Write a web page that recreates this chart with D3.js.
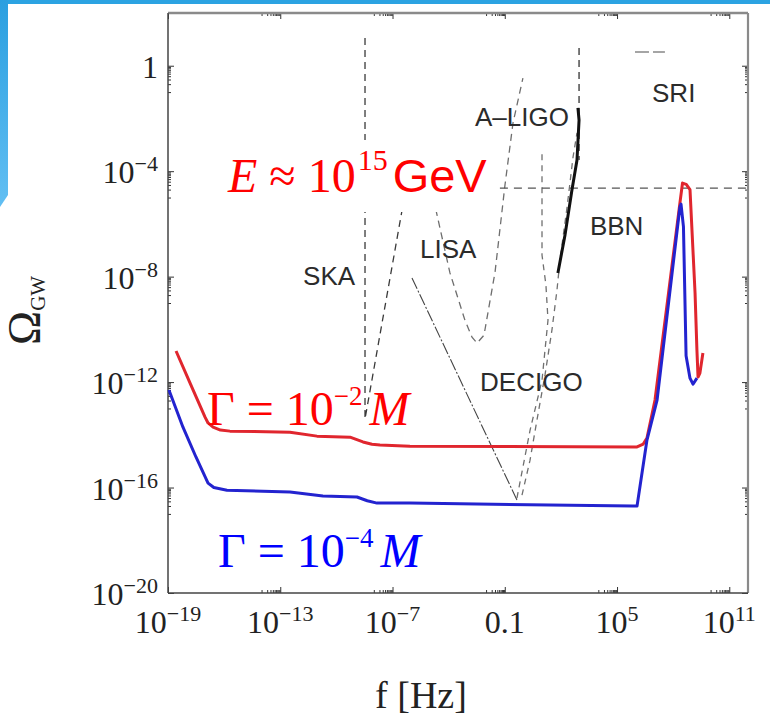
<!DOCTYPE html>
<html>
<head>
<meta charset="utf-8">
<script src="https://cdn.jsdelivr.net/npm/d3@7"></script>
<style>
  html, body { margin: 0; padding: 0; background: #fff; }
  svg { display: block; }
</style>
</head>
<body>
<div id="chart"></div>
<script>
// every point is [log10 f (Hz), log10 Omega_GW]
var xMajor = [-19, -13, -7, -1, 5, 11];
var xTickText = [["10", "−19"], ["10", "−13"], ["10", "−7"], ["0.1", ""], ["10", "5"], ["10", "11"]];
var yMajor = [0, -4, -8, -12, -16, -20];
var yTickText = [["1", ""], ["10", "−4"], ["10", "−8"], ["10", "−12"], ["10", "−16"], ["10", "−20"]];

var gamma2 = [[-18.57, -10.82], [-17.82, -12.04], [-17.02, -13.33], [-16.86, -13.55], [-16.59, -13.71],
        [-16.20, -13.82], [-15.69, -13.86], [-12.48, -13.90], [-11.04, -14.05], [-9.27, -14.09],
        [-8.58, -14.27], [-8.10, -14.36], [-7.67, -14.39], [-6.07, -14.43], [6.07, -14.46],
        [6.40, -14.35], [6.60, -14.12], [7.03, -12.68], [8.36, -5.21], [8.50, -4.45],
        [8.70, -4.50], [8.90, -4.70], [9.17, -8.62], [9.27, -10.78], [9.33, -11.81],
        [9.43, -11.66], [9.59, -10.90]];
var gamma4 = [[-18.95, -12.30], [-18.20, -13.71], [-17.50, -14.85], [-16.86, -15.83], [-16.55, -16.00],
        [-15.85, -16.10], [-12.48, -16.17], [-10.72, -16.32], [-8.90, -16.36], [-8.35, -16.50],
        [-7.83, -16.59], [-6.07, -16.59], [5.85, -16.70], [6.07, -16.70], [6.60, -14.20],
        [7.14, -12.68], [8.36, -5.36], [8.42, -5.25], [8.55, -6.10], [8.69, -11.00],
        [8.90, -11.85], [9.06, -12.08], [9.27, -11.85]];

var ska = [[-8.47, 1.05], [-8.47, -13.40], [-5.92, -3.20]];
var lisa = [[-5.30, -3.20], [-4.68, -5.47], [-3.93, -7.86], [-3.13, -9.65], [-2.75, -10.30],
        [-2.48, -10.52], [-2.11, -10.22], [-1.52, -7.83], [-0.99, -4.53], [-0.56, -2.17], [-0.03, -0.47]];
var decigo = [[-5.96, -8.05], [-0.35, -16.47]];
var decigoA = [[-0.35, -16.40], [0.35, -13.83], [0.99, -11.93], [1.31, -9.65], [1.20, -8.32],
        [0.99, -7.18], [0.99, -3.27]];
var decigoB = [[-0.08, -16.29], [0.35, -14.96], [0.72, -13.44], [1.15, -11.73], [1.52, -10.03],
        [1.79, -8.51], [1.95, -7.37], [2.33, -5.36], [2.65, -3.46], [2.86, -2.55]];
var aligo = [[1.84, -7.86], [2.22, -6.42], [2.59, -4.71], [2.86, -3.58], [2.97, -2.06], [2.91, -1.60]];
var aligoEdge = [[2.97, 0.67], [2.97, -3.58]];
var bbn = [[-1.26, -4.64], [12, -4.64]];
var sri = [[5.96, 0.52], [7.56, 0.52]];

var detectors = ["SKA", "LISA", "A–LIGO", "BBN", "DECIGO", "SRI"];

var W = 770, H = 715;
var M = { left: 168, right: 22, top: 13, bottom: 122 };
var SERIF = "'Liberation Serif', 'Times New Roman', serif";
var SANS = "'Liberation Sans', Arial, sans-serif";

function p10(e) { return Math.pow(10, e); }

var x = d3.scaleLog().domain([1e-19, 1e12]).range([M.left, W - M.right]);
var y = d3.scaleLog().domain([1e-20, 1e2]).range([H - M.bottom, M.top]);

var svg = d3.select("#chart").append("svg")
        .attr("width", W)
        .attr("height", H);

// slide decoration
svg.append("rect").attr("x", 0).attr("y", 0).attr("width", W).attr("height", 4).attr("fill", "#2ba3e2");
var grad = svg.append("defs").append("linearGradient")
        .attr("id", "side").attr("x1", 0).attr("y1", 0).attr("x2", 0).attr("y2", 1);
grad.append("stop").attr("offset", "0%").attr("stop-color", "#2a9fe0");
grad.append("stop").attr("offset", "100%").attr("stop-color", "#62bff3");
svg.append("polygon").attr("points", "0,0 8,0 8,195 0,207").attr("fill", "url(#side)");

svg.select("defs").append("clipPath").attr("id", "plot")
        .append("rect")
        .attr("x", M.left).attr("y", M.top)
        .attr("width", W - M.left - M.right).attr("height", H - M.top - M.bottom);

var line = d3.line()
        .x(function(d) { return x(p10(d[0])); })
        .y(function(d) { return y(p10(d[1])); });

// axes: inward major ticks plus log minor ticks under each labelled decade
function minors(major, scale) {
        var out = [];
        var lo = scale.domain()[0];
        major.forEach(function(m) {
                for (var k = 1; k <= 9; k++) {
                        var v = k * p10(m - 1);
                        if (v > lo * 1.0001) out.push(v);
                }
        });
        return out;
}

function drawAxis(axis, tx, ty, values, size) {
        svg.append("g")
                .attr("transform", "translate(" + tx + "," + ty + ")")
                .call(axis.tickValues(values).tickSizeInner(-size).tickSizeOuter(0).tickFormat(""))
                .call(function(g) { g.select(".domain").remove(); })
                .call(function(g) { g.selectAll("line").attr("stroke", "#333").attr("stroke-width", 1); });
}

var x0 = M.left, x1 = W - M.right, y0 = H - M.bottom, y1 = M.top;
var xMaj = xMajor.map(p10), yMaj = yMajor.map(p10);
var xMin = minors(xMajor, x), yMin = minors(yMajor, y);

drawAxis(d3.axisBottom(x), 0, y0, xMaj, 6);
drawAxis(d3.axisBottom(x), 0, y0, xMin, 3);
drawAxis(d3.axisTop(x), 0, y1, xMaj, 6);
drawAxis(d3.axisTop(x), 0, y1, xMin, 3);
drawAxis(d3.axisLeft(y), x0, 0, yMaj, 6);
drawAxis(d3.axisLeft(y), x0, 0, yMin, 3);
drawAxis(d3.axisRight(y), x1, 0, yMaj, 6);
drawAxis(d3.axisRight(y), x1, 0, yMin, 3);

// frame
svg.append("line").attr("x1", x0).attr("x2", x1).attr("y1", y1).attr("y2", y1)
        .attr("stroke", "#8a8a8a").attr("stroke-width", 2.5);
svg.append("line").attr("x1", x1).attr("x2", x1).attr("y1", y1).attr("y2", y0)
        .attr("stroke", "#8a8a8a").attr("stroke-width", 2.2);
svg.append("line").attr("x1", x0).attr("x2", x0).attr("y1", y1).attr("y2", y0)
        .attr("stroke", "#444").attr("stroke-width", 1.5);
svg.append("line").attr("x1", x0).attr("x2", x1).attr("y1", y0).attr("y2", y0)
        .attr("stroke", "#444").attr("stroke-width", 1.5);

// tick labels
function tickLabel(sel, d) {
        sel.append("tspan").text(d[0]);
        if (d[1]) {
                sel.append("tspan").attr("dy", -12).attr("font-size", 22).text(d[1]);
        }
}

svg.append("g").selectAll("text")
        .data(xMajor)
        .join("text")
        .attr("x", function(d) { return x(p10(d)); })
        .attr("y", y0 + 40)
        .attr("text-anchor", "middle")
        .attr("font-family", SERIF)
        .attr("font-size", 32)
        .attr("fill", "#222")
        .each(function(d, i) { tickLabel(d3.select(this), xTickText[i]); });

svg.append("g").selectAll("text")
        .data(yMajor)
        .join("text")
        .attr("x", x0 - 10)
        .attr("y", function(d) { return y(p10(d)) + 12; })
        .attr("text-anchor", "end")
        .attr("font-family", SERIF)
        .attr("font-size", 32)
        .attr("fill", "#222")
        .each(function(d, i) { tickLabel(d3.select(this), yTickText[i]); });

// axis titles
var yt = svg.append("text")
        .attr("transform", "translate(40,345) rotate(-90)")
        .attr("font-family", SERIF)
        .attr("fill", "#222");
yt.append("tspan").attr("font-size", 46).text("Ω");
yt.append("tspan").attr("font-size", 21).attr("dy", 5).text("GW");

svg.append("text")
        .attr("x", 421).attr("y", 708)
        .attr("text-anchor", "middle")
        .attr("font-family", SERIF)
        .attr("font-size", 38)
        .attr("fill", "#222")
        .text("f [Hz]");

// sensitivity curves
var sens = svg.append("g").attr("clip-path", "url(#plot)").attr("fill", "none");

function curve(data, color, width, dash) {
        sens.append("path")
                .datum(data)
                .attr("d", line)
                .attr("stroke", color)
                .attr("stroke-width", width)
                .attr("stroke-dasharray", dash);
}

curve(ska, "#3a3a3a", 1.3, "7,5");
curve(lisa, "#6e6e6e", 1.3, "7,5");
curve(decigo, "#444", 1.1, "12,2,2,2");
curve(decigoA, "#707070", 1.3, "6,5");
curve(decigoB, "#707070", 1.3, "6,5");
curve(aligoEdge, "#333", 1.3, "7,5");
curve(bbn, "#555", 1.3, "8,6");
curve(sri, "#888", 1.3, "14,4");
curve(aligo, "#111", 3, null);

// detector names, anchored in data units
var namePos = [[-11.78, -8.32], [-5.53, -7.29], [-2.59, -2.29], [3.55, -6.42], [-2.32, -12.34], [6.87, -1.38]];
svg.append("g").selectAll("text")
        .data(detectors)
        .join("text")
        .attr("x", function(d, i) { return x(p10(namePos[i][0])); })
        .attr("y", function(d, i) { return y(p10(namePos[i][1])); })
        .attr("font-family", SANS)
        .attr("font-size", 26)
        .attr("fill", "#2b2b2b")
        .text(function(d) { return d; });

// energy scale label on a white box
var eg = svg.append("g");
var et = eg.append("text")
        .attr("x", 228).attr("y", 192)
        .attr("font-family", SERIF)
        .attr("font-size", 48)
        .attr("fill", "#ff0000");
et.append("tspan").attr("font-style", "italic").text("E");
et.append("tspan").text(" ≈ 10");
et.append("tspan").attr("font-size", 30).attr("dy", -22).attr("dx", 2).text("15");
et.append("tspan").attr("font-family", SANS).attr("font-size", 47).attr("dy", 22).attr("dx", 5).text("GeV");
var bb = et.node().getBBox();
eg.insert("rect", "text")
        .attr("x", bb.x - 6).attr("y", 140)
        .attr("width", bb.width + 12).attr("height", 72)
        .attr("fill", "#fff");

// model curves
svg.append("path").datum(gamma2).attr("d", line)
        .attr("fill", "none").attr("stroke", "#e0262e").attr("stroke-width", 3).attr("stroke-linejoin", "round");
svg.append("path").datum(gamma4).attr("d", line)
        .attr("fill", "none").attr("stroke", "#2323cf").attr("stroke-width", 3).attr("stroke-linejoin", "round");

function gammaLabel(px, py, exp, color) {
        var t = svg.append("text")
                .attr("x", px).attr("y", py)
                .attr("font-family", SERIF)
                .attr("font-size", 48)
                .attr("fill", color);
        t.append("tspan").text("Γ = 10");
        t.append("tspan").attr("font-size", 27).attr("dy", -20).text(exp);
        t.append("tspan").attr("font-style", "italic").attr("dy", 20).attr("dx", 7).text("M");
}
gammaLabel(207, 425, "−2", "#ff0000");
gammaLabel(218, 567, "−4", "#0000ff");
</script>
</body>
</html>
